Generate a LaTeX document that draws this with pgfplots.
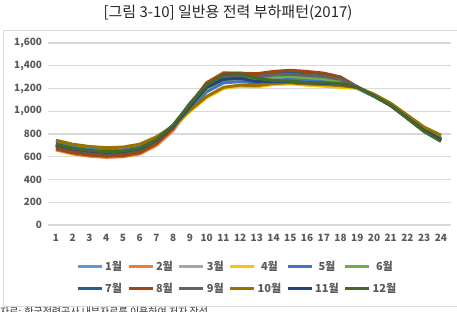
\documentclass[border=0pt]{standalone}
\usepackage{fontspec}
\setmainfont{Noto Sans CJK KR}
\usepackage{pgfplots}
\pgfplotsset{compat=1.18}
\definecolor{c1}{HTML}{5B9BD5}
\definecolor{c2}{HTML}{ED7D31}
\definecolor{c3}{HTML}{A5A5A5}
\definecolor{c4}{HTML}{FFC000}
\definecolor{c5}{HTML}{4472C4}
\definecolor{c6}{HTML}{70AD47}
\definecolor{c7}{HTML}{255E91}
\definecolor{c8}{HTML}{9E480E}
\definecolor{c9}{HTML}{636363}
\definecolor{c10}{HTML}{997300}
\definecolor{c11}{HTML}{264478}
\definecolor{c12}{HTML}{43682B}
\definecolor{tickgray}{HTML}{595959}
\definecolor{gridgray}{HTML}{D9D9D9}
\begin{document}
\begin{tikzpicture}
\path[use as bounding box] (0pt,0pt) rectangle (457pt,311pt);
\draw[gridgray, line width=0.8pt] (3pt,5pt) rectangle (470pt,281pt);
\node[font=\fontsize{15}{17}\selectfont, text=black!85] at (228pt,298.5pt) {[그림 3-10] 일반용 전력 부하패턴(2017)};
\node[anchor=west, font=\fontsize{10}{12}\selectfont, text=black!80, inner sep=0pt] at (0pt,-1pt) {자료: 한국전력공사 내부자료를 이용하여 저자 작성};
\begin{axis}[
  at={(47.6pt,86pt)}, anchor=south west,
  scale only axis, width=403.4pt, height=182pt,
  xmin=0.5, xmax=24.6, ymin=0, ymax=1600,
  axis line style={draw=none},
  major tick length=0pt,
  xtick={1,...,24}, ytick={0,200,...,1600},
  ymajorgrids, grid style={gridgray, line width=1.2pt},
  /pgf/number format/assume math mode=true,
  /pgf/number format/1000 sep={,},
  tick label style={font=\fontsize{10}{11}\selectfont\bfseries, text=tickgray},
  xticklabel style={yshift=-6pt},
  yticklabel style={xshift=-2pt},
  every axis plot/.append style={line width=3pt, line join=round},
  legend style={at={(0.47,-0.175)}, anchor=north, draw=none, fill=none,
    font=\fontsize{11}{12}\selectfont\bfseries, text=tickgray,
    /tikz/every even column/.append style={column sep=3pt},
    row sep=7pt},
  legend columns=6,
  legend image code/.code={\draw[#1, line width=3pt] (0pt,0pt) -- (24pt,0pt);},
]
\addplot[c1] coordinates {(1,700)(2,665)(3,645)(4,635)(5,640)(6,665)(7,735)(8,850)(9,1020)(10,1180)(11,1250)(12,1270)(13,1260)(14,1280)(15,1290)(16,1280)(17,1270)(18,1250)(19,1200)(20,1130)(21,1050)(22,940)(23,830)(24,750)};
\addplot[c2] coordinates {(1,660)(2,625)(3,605)(4,595)(5,600)(6,625)(7,700)(8,830)(9,1030)(10,1250)(11,1340)(12,1335)(13,1320)(14,1340)(15,1345)(16,1335)(17,1320)(18,1290)(19,1210)(20,1140)(21,1055)(22,945)(23,830)(24,745)};
\addplot[c3] coordinates {(1,690)(2,655)(3,635)(4,625)(5,630)(6,655)(7,725)(8,840)(9,1020)(10,1190)(11,1260)(12,1270)(13,1250)(14,1270)(15,1275)(16,1265)(17,1255)(18,1240)(19,1205)(20,1135)(21,1055)(22,945)(23,835)(24,755)};
\addplot[c4] coordinates {(1,740)(2,705)(3,685)(4,675)(5,680)(6,705)(7,770)(8,860)(9,1000)(10,1120)(11,1200)(12,1220)(13,1215)(14,1235)(15,1240)(16,1230)(17,1220)(18,1210)(19,1200)(20,1140)(21,1065)(22,960)(23,855)(24,780)};
\addplot[c5] coordinates {(1,720)(2,685)(3,665)(4,655)(5,660)(6,685)(7,755)(8,860)(9,1020)(10,1170)(11,1250)(12,1260)(13,1250)(14,1270)(15,1280)(16,1270)(17,1260)(18,1250)(19,1210)(20,1140)(21,1060)(22,950)(23,840)(24,765)};
\addplot[c6] coordinates {(1,710)(2,675)(3,655)(4,645)(5,650)(6,675)(7,745)(8,860)(9,1040)(10,1200)(11,1280)(12,1290)(13,1285)(14,1300)(15,1305)(16,1295)(17,1285)(18,1260)(19,1215)(20,1140)(21,1060)(22,950)(23,840)(24,760)};
\addplot[c7] coordinates {(1,690)(2,655)(3,635)(4,625)(5,630)(6,655)(7,730)(8,860)(9,1060)(10,1240)(11,1320)(12,1325)(13,1320)(14,1340)(15,1345)(16,1340)(17,1330)(18,1300)(19,1215)(20,1140)(21,1055)(22,945)(23,830)(24,745)};
\addplot[c8] coordinates {(1,670)(2,635)(3,615)(4,605)(5,610)(6,635)(7,715)(8,850)(9,1060)(10,1250)(11,1330)(12,1335)(13,1330)(14,1350)(15,1360)(16,1350)(17,1335)(18,1300)(19,1210)(20,1135)(21,1050)(22,940)(23,825)(24,740)};
\addplot[c9] coordinates {(1,700)(2,665)(3,645)(4,635)(5,640)(6,665)(7,740)(8,870)(9,1070)(10,1230)(11,1300)(12,1310)(13,1300)(14,1320)(15,1325)(16,1315)(17,1305)(18,1280)(19,1210)(20,1140)(21,1055)(22,945)(23,835)(24,755)};
\addplot[c10] coordinates {(1,745)(2,710)(3,690)(4,680)(5,685)(6,710)(7,775)(8,870)(9,1010)(10,1130)(11,1210)(12,1230)(13,1225)(14,1245)(15,1250)(16,1240)(17,1235)(18,1225)(19,1210)(20,1150)(21,1070)(22,965)(23,860)(24,790)};
\addplot[c11] coordinates {(1,705)(2,670)(3,650)(4,640)(5,645)(6,670)(7,745)(8,870)(9,1040)(10,1210)(11,1280)(12,1290)(13,1260)(14,1260)(15,1260)(16,1250)(17,1245)(18,1240)(19,1210)(20,1135)(21,1050)(22,940)(23,830)(24,750)};
\addplot[c12] coordinates {(1,710)(2,675)(3,655)(4,645)(5,650)(6,675)(7,750)(8,880)(9,1060)(10,1230)(11,1320)(12,1330)(13,1290)(14,1270)(15,1265)(16,1250)(17,1250)(18,1245)(19,1210)(20,1135)(21,1050)(22,935)(23,820)(24,735)};
\legend{1월,2월,3월,4월,5월,6월,7월,8월,9월,10월,11월,12월}
\end{axis}
\end{tikzpicture}
\end{document}
